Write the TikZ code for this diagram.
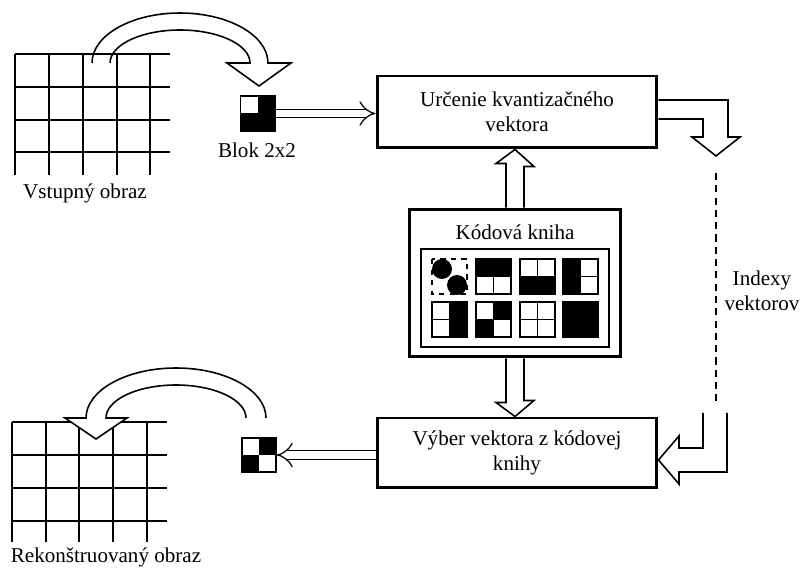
\documentclass[tikz,border=0pt]{standalone}
\usepackage{fontspec}
\setmainfont{Liberation Serif}
\usetikzlibrary{calc,arrows.meta}

% one 2x2 codebook tile: top-left corner, fills of TL TR BL BR
\newcommand{\cbtile}[6]{%
	\fill[#3] (#1,#2) rectangle ++(17.5,17.5);
	\fill[#4] (#1+17.5,#2) rectangle ++(17.5,17.5);
	\fill[#5] (#1,#2+17.5) rectangle ++(17.5,17.5);
	\fill[#6] (#1+17.5,#2+17.5) rectangle ++(17.5,17.5);
	\draw[tile] (#1,#2) rectangle ++(35,35)
	(#1+17.5,#2) -- ++(0,35) (#1,#2+17.5) -- ++(35,0);
}

\begin{document}
\begin{tikzpicture}[x=0.02cm,y=-0.02cm,
			txt/.style={font=\fontsize{12}{14.2}\selectfont,align=center},
			procbox/.style={txt,draw,line width=1.7pt,fill=white,minimum width=5.6cm},
			blk/.style={draw,line width=0.8pt,minimum size=0.68cm,inner sep=0pt},
			tile/.style={line width=0.8pt},
			gridline/.style={line width=1.1pt},
			hollow/.style={line width=0.9pt,fill=white,line join=miter},
			dbl/.style={double,double distance=0.15cm,line width=0.7pt,-{Implies}}]
			
			\useasboundingbox (0,0) rectangle (806,574);
			
			% Input image and its curved arrow
			\draw[hollow] (92,63) arc[start angle=180,end angle=0,x radius=1.76cm,y radius=1cm]
			-- (291,63) -- (259,86) -- (227,63) -- (250,63)
			arc[start angle=0,end angle=180,x radius=1.4cm,y radius=0.66cm];
			\foreach \gx in {15,49,83,117,150} {
				\draw[gridline] (\gx,54) -- (\gx,175);
			}
			\foreach \gy in {54,87,120,152} {
				\draw[gridline] (15,\gy) -- (170,\gy);
			}
			\node[txt] (inlbl) at (85,193) {Vstupný obraz};
			
			% Input block 2x2
			\node[blk,fill=black] (blk1) at (258,113.5) {};
			\fill[white] (blk1.north west) rectangle (blk1.center);
			\draw[tile] (blk1.north west) rectangle (blk1.south east);
			\node[txt] (blklbl) at (257,150) {Blok 2x2};
			
			% Processing boxes
			\node[procbox,minimum height=1.44cm] (urc) at (517,112)
			{Určenie kvantizačného\\vektora};
			\node[procbox,minimum height=1.4cm] (vyb) at (517,453)
			{Výber vektora z kódovej\\knihy};
			\draw[dbl] (blk1.east) -- (urc.west |- blk1.east);
			
			% Codebook
			\node[procbox,minimum width=4.24cm,minimum height=2.96cm] (cb) at (515,283) {};
			\node[txt] (cblbl) at (515,232) {Kódová kniha};
			\draw[line width=0.7pt] (421,249) rectangle (609,347);
			\draw[tile,dashed] (432,259) rectangle ++(35,35);
			\fill (442,269) circle[radius=0.2cm];
			\fill (457,285) circle[radius=0.2cm];
			\cbtile{476}{259}{black}{black}{white}{white}
			\cbtile{520}{259}{white}{white}{black}{black}
			\cbtile{563}{259}{black}{white}{black}{white}
			\cbtile{432}{302}{white}{black}{white}{black}
			\cbtile{476}{302}{white}{black}{black}{white}
			\cbtile{520}{302}{white}{white}{white}{white}
			\cbtile{563}{302}{black}{black}{black}{black}
			
			% Hollow arrows codebook -> boxes
			\draw[hollow] ($(cb.north)+(-9,0)$) -- ++(0,-44) -- ++(-10,0)
			-- (cb.north |- urc.south) -- ++(19,17) -- ++(-10,0) -- ($(cb.north)+(9,0)$);
			\draw[hollow] ($(cb.south)+(-9,0)$) -- ++(0,44) -- ++(-10,0)
			-- (cb.south |- vyb.north) -- ++(19,-16) -- ++(-10,0) -- ($(cb.south)+(9,0)$);
			
			% Vector indices on the right
			\draw[hollow] ($(urc.east)+(0,-12)$) -- (728,100) -- (728,137) -- (740,137)
			-- (716,156) -- (692,137) -- (703,137) -- (703,119) -- ($(urc.east)+(0,7)$);
			\coordinate (idxtop) at (716,173);
			\coordinate (idxbot) at (716,403);
			\draw[gridline,dash pattern=on 4pt off 3pt] (idxtop) -- (idxbot);
			\node[txt] (idxlbl) at (762,291) {Indexy\\vektorov};
			\draw[hollow] (703,413) -- (703,448) -- (679,448) -- (679,436)
			-- ($(vyb.east)+(0,7)$) -- (679,484) -- (679,472) -- (727,472) -- (727,413);
			
			% Output block 2x2
			\node[blk] (blk2) at (259,455) {};
			\fill (blk2.north) rectangle (blk2.east);
			\fill (blk2.west) rectangle (blk2.south);
			\draw[tile] (blk2.north west) rectangle (blk2.south east);
			\draw[dbl] (vyb.west |- blk2.east) -- (blk2.east);
			
			% Reconstructed image and its curved arrow
			\foreach \gx in {12,46,79,113,147} {
				\draw[gridline] (\gx,422) -- (\gx,542);
			}
			\foreach \gy in {422,455,488,521} {
				\draw[gridline] (12,\gy) -- (167,\gy);
			}
			\draw[hollow] (266,418) arc[start angle=0,end angle=180,x radius=1.8cm,y radius=1cm]
			-- (65,418) -- (96,439) -- (127,418) -- (106,418)
			arc[start angle=180,end angle=0,x radius=1.4cm,y radius=0.66cm];
			\node[txt] (outlbl) at (106,557) {Rekonštruovaný obraz};
			
		\end{tikzpicture}
\end{document}
